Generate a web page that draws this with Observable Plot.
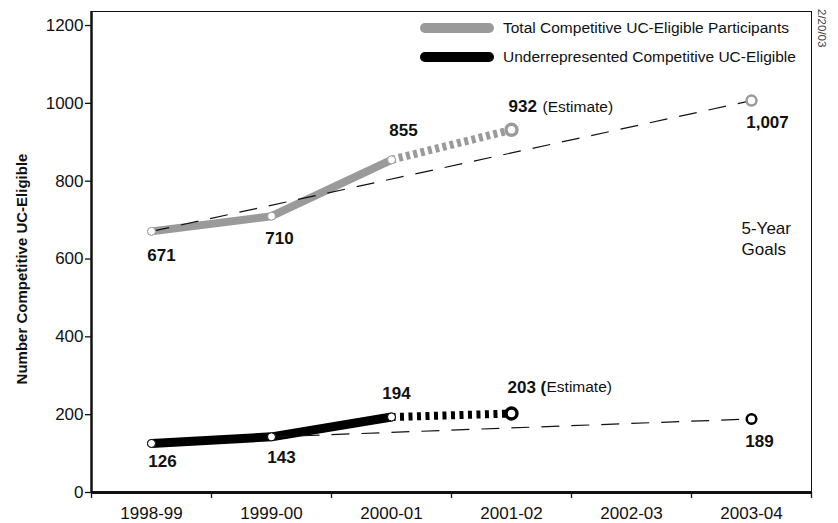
<!DOCTYPE html>
<html>
<head>
<meta charset="utf-8">
<script src="https://cdn.jsdelivr.net/npm/d3@7"></script>
<script src="https://cdn.jsdelivr.net/npm/@observablehq/plot@0.6"></script>
<style>
  body { margin: 0; background: #fff; }
  #wrap { position: relative; width: 838px; height: 523px; font-family: "Liberation Sans", Arial, sans-serif; color: #111; }
</style>
</head>
<body>
<div id="wrap"></div>
<script>
// ---- data ----
const years = ["1998-99", "1999-00", "2000-01", "2001-02", "2002-03", "2003-04"];
const totalActual = [671, 710, 855];      // 1998-99 .. 2000-01
const totalEstimate = 932;                // 2001-02
const totalGoal = 1007;                   // 2003-04
const underActual = [126, 143, 194];
const underEstimate = 203;
const underGoal = 189;
const yTicks = [0, 200, 400, 600, 800, 1000, 1200];
const seriesNames = ["Total Competitive UC-Eligible Participants", "Underrepresented Competitive UC-Eligible"];
const yTitle = "Number Competitive UC-Eligible";
const dateStamp = "2/20/03";
const goalNote = "5-Year\nGoals";
const estimateWord = "Estimate";

// ---- derived tables ----
const iEst = years.indexOf("2001-02");
const iGoal = years.indexOf("2003-04");
const pts = arr => arr.map((v, i) => ({x: i, y: v}));
const totalSolid = pts(totalActual);
const underSolid = pts(underActual);
const totalDotted = [totalSolid[totalSolid.length - 1], {x: iEst, y: totalEstimate}];
const underDotted = [underSolid[underSolid.length - 1], {x: iEst, y: underEstimate}];
const totalTrend = [totalSolid[0], {x: iGoal, y: totalGoal}];
const underTrend = [underSolid[1], {x: iGoal, y: underGoal}];
const fmt = d3.format(",");

const GRAY = "#9a9a9a", BLACK = "#000";
const one = (p) => [p];
function lab(p, text, opt) {
  return Plot.text(one(p), {x: "x", y: "y", text: () => text, fontWeight: "bold", fontSize: 17, fill: "#111", ...opt});
}

const chart = Plot.plot({
  width: 838,
  height: 523,
  marginLeft: 91,
  marginRight: 27,
  marginTop: 11,
  marginBottom: 31,
  style: {fontFamily: "'Liberation Sans', Arial, sans-serif", fontSize: "16px", color: "#111", background: "#fff"},
  x: {type: "linear", domain: [-0.5, years.length - 0.5]},
  y: {domain: [0, 1236]},
  marks: [
    Plot.frame({stroke: "#111", strokeWidth: 1}),
    Plot.axisY({ticks: yTicks, tickSize: 6, tickPadding: 2, tickFormat: d => String(d), label: null, fontSize: 17, strokeWidth: 1.3}),
    Plot.axisX({ticks: d3.range(years.length), tickSize: 0, tickPadding: 14, tickFormat: i => years[i], label: null, fontSize: 17}),
    Plot.axisX({ticks: d3.range(-0.5, years.length, 1), tickSize: 6, tickFormat: () => "", label: null, strokeWidth: 1.3}),
    Plot.ruleX([-0.5], {stroke: "#111", strokeWidth: 2.5}),
    Plot.ruleY([0], {stroke: "#111", strokeWidth: 3}),

    // total series
    Plot.line(totalSolid, {x: "x", y: "y", stroke: GRAY, strokeWidth: 8, strokeLinecap: "round", strokeLinejoin: "round"}),
    Plot.line(totalDotted, {x: "x", y: "y", stroke: GRAY, strokeWidth: 8, strokeLinecap: "butt", strokeDasharray: "4,3.5"}),
    Plot.line(totalTrend, {x: "x", y: "y", stroke: "#111", strokeWidth: 1.2, strokeLinecap: "butt", strokeDasharray: "18,12"}),
    Plot.dot(totalSolid, {x: "x", y: "y", r: 4, fill: "#fff", stroke: GRAY, strokeWidth: 1}),
    Plot.dot(one({x: iEst, y: totalEstimate}), {x: "x", y: "y", r: 5.5, fill: "#fff", stroke: GRAY, strokeWidth: 3.4}),
    Plot.dot(one({x: iGoal, y: totalGoal}), {x: "x", y: "y", r: 5, fill: "#fff", stroke: GRAY, strokeWidth: 2.5}),

    // underrepresented series
    Plot.line(underSolid, {x: "x", y: "y", stroke: BLACK, strokeWidth: 9, strokeLinecap: "round", strokeLinejoin: "round"}),
    Plot.line(underDotted, {x: "x", y: "y", stroke: BLACK, strokeWidth: 8, strokeLinecap: "butt", strokeDasharray: "4,4.5"}),
    Plot.line(underTrend, {x: "x", y: "y", stroke: "#111", strokeWidth: 1.2, strokeLinecap: "butt", strokeDasharray: "18,12"}),
    Plot.dot(underSolid, {x: "x", y: "y", r: 4, fill: "#fff", stroke: BLACK, strokeWidth: 1}),
    Plot.dot(one({x: iEst, y: underEstimate}), {x: "x", y: "y", r: 5.5, fill: "#fff", stroke: BLACK, strokeWidth: 3.4}),
    Plot.dot(one({x: iGoal, y: underGoal}), {x: "x", y: "y", r: 4.8, fill: "#fff", stroke: BLACK, strokeWidth: 2.5}),

    // value labels — total
    lab(totalSolid[0], fmt(totalActual[0]), {dx: 10, dy: 24}),
    lab(totalSolid[1], fmt(totalActual[1]), {dx: 8, dy: 22}),
    lab(totalSolid[2], fmt(totalActual[2]), {dx: 12, dy: -29}),
    lab({x: iEst, y: totalEstimate}, fmt(totalEstimate), {dx: -3, dy: -23, textAnchor: "start"}),
    Plot.text(one({x: iEst, y: totalEstimate}), {x: "x", y: "y", text: () => `(${estimateWord})`, dx: 31, dy: -23, textAnchor: "start", fontSize: 15.5, fill: "#111"}),
    lab({x: iGoal, y: totalGoal}, fmt(totalGoal), {dx: 16, dy: 22}),

    // value labels — underrepresented
    lab(underSolid[0], fmt(underActual[0]), {dx: 11, dy: 18}),
    lab(underSolid[1], fmt(underActual[1]), {dx: 10, dy: 21}),
    lab(underSolid[2], fmt(underActual[2]), {dx: 5, dy: -23}),
    lab({x: iEst, y: underEstimate}, `${fmt(underEstimate)} (`, {dx: -4, dy: -26, textAnchor: "start"}),
    Plot.text(one({x: iEst, y: underEstimate}), {x: "x", y: "y", text: () => `${estimateWord})`, dx: 35, dy: -26, textAnchor: "start", fontSize: 15.5, fill: "#111"}),
    lab({x: iGoal, y: underGoal}, fmt(underGoal), {dx: 8, dy: 23}),

    // goals note
    Plot.text(one({x: iGoal, y: 654}), {x: "x", y: "y", text: () => goalNote, dx: -10, textAnchor: "start", fontSize: 17, lineHeight: 1.25, fill: "#111"})
  ]
});

const wrap = document.getElementById("wrap");
wrap.appendChild(chart);
const s = d3.select(chart);
s.append("text")
  .attr("transform", "translate(22,269) rotate(-90)")
  .attr("text-anchor", "middle").attr("dy", "0.35em")
  .attr("font-weight", "bold").attr("font-size", 15).attr("fill", "#111")
  .text(yTitle);
s.append("text")
  .attr("transform", "translate(822,9) rotate(90)")
  .attr("text-anchor", "start").attr("dy", "0.35em")
  .attr("font-size", 11.5).attr("fill", "#444")
  .text(dateStamp);

// legend (inside the frame, top right)
const legColors = [GRAY, BLACK];
const legY = [28, 57];
const leg = s.append("g").attr("class", "legend").attr("text-anchor", "start");
seriesNames.forEach((name, i) => {
  leg.append("line")
    .attr("x1", 425).attr("x2", 489).attr("y1", legY[i]).attr("y2", legY[i])
    .attr("stroke", legColors[i]).attr("stroke-width", 10).attr("stroke-linecap", "round");
  leg.append("text")
    .attr("text-anchor", "start")
    .attr("x", 503).attr("y", legY[i])
    .attr("font-size", 15.5).attr("fill", "#111").attr("dy", "0.35em")
    .text(name);
});
</script>
</body>
</html>
